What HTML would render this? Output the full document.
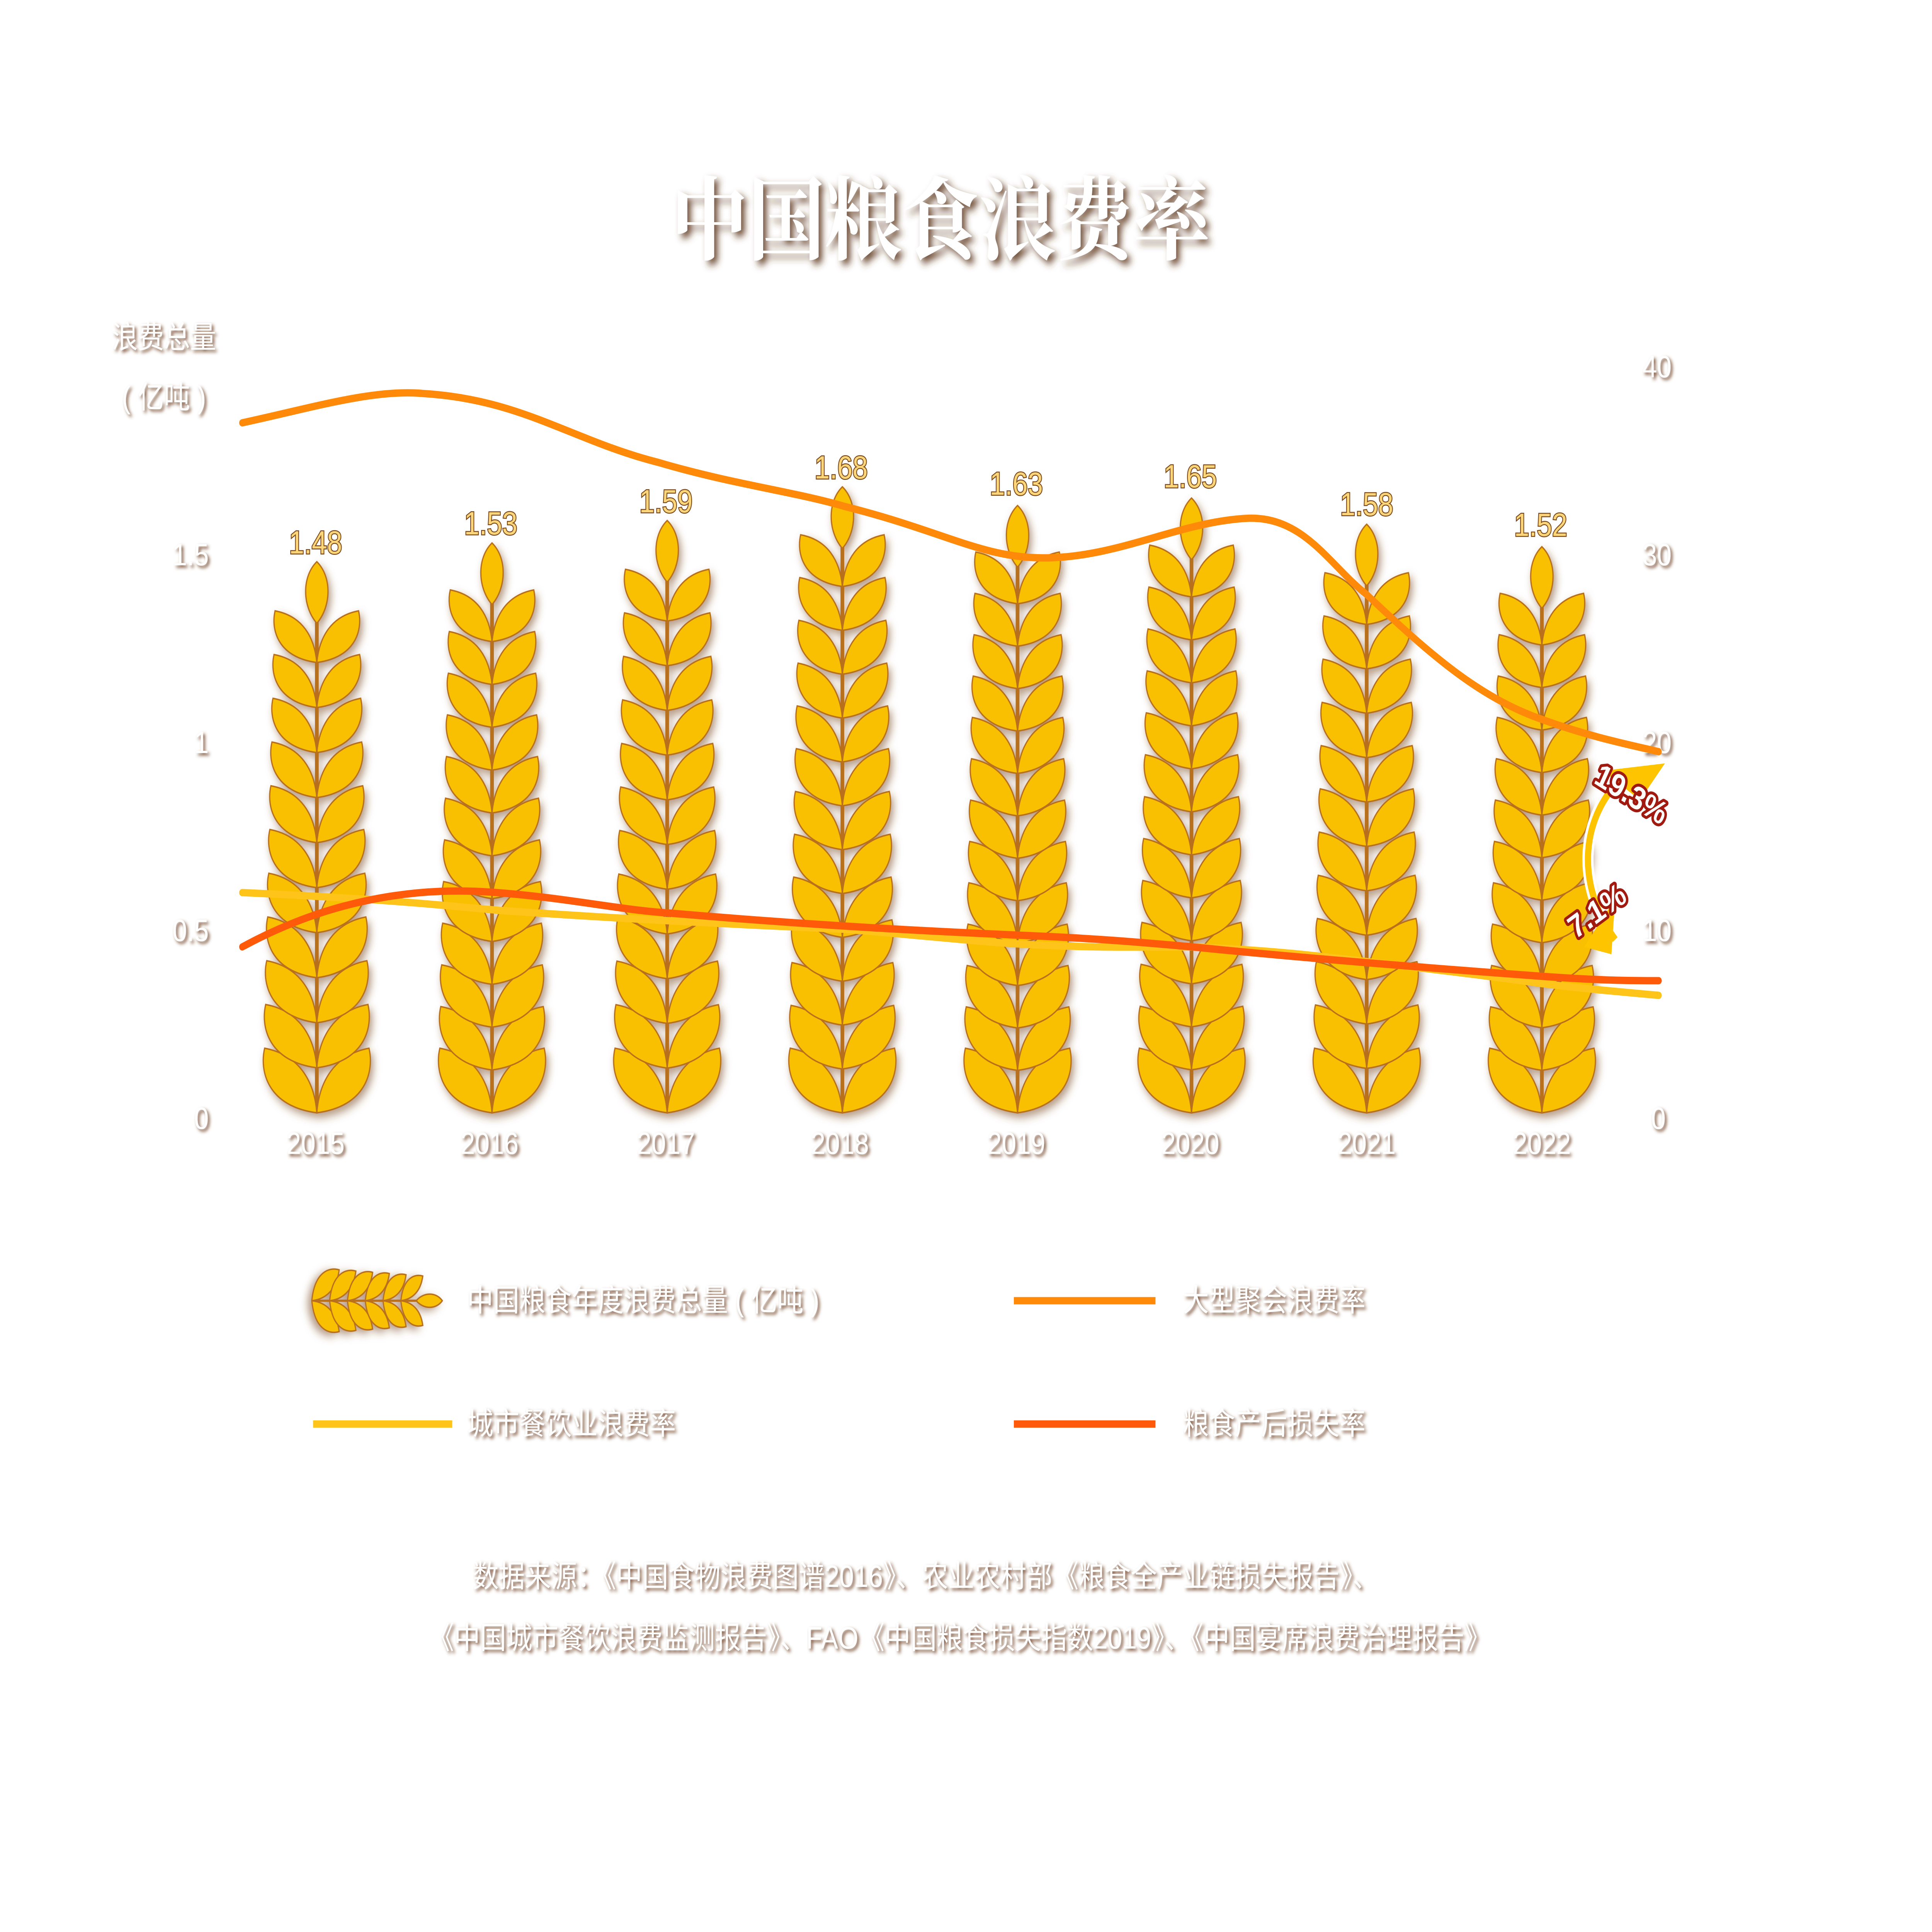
<!DOCTYPE html>
<html><head><meta charset="utf-8">
<style>
html,body{margin:0;padding:0;background:#fff;width:100%;height:100%;overflow:hidden;}
svg{display:block;position:absolute;left:0;top:0;width:100vw;height:100vh;}
text{font-family:"Liberation Sans","Noto Sans CJK SC",sans-serif;}
</style></head>
<body>
<svg id="s" viewBox="0 0 1555 1316" preserveAspectRatio="none" xmlns="http://www.w3.org/2000/svg">
<defs>
<filter id="sh" x="-20%" y="-20%" width="140%" height="140%"><feDropShadow dx="1.5" dy="1.5" stdDeviation="1.2" flood-color="#6b3a1a" flood-opacity="0.9"/></filter>
<filter id="sh2" x="-20%" y="-20%" width="140%" height="140%"><feDropShadow dx="3" dy="3" stdDeviation="2.5" flood-color="#5a3016" flood-opacity="0.85"/></filter>
<filter id="ksh" x="-30%" y="-30%" width="160%" height="160%"><feDropShadow dx="2" dy="3" stdDeviation="3" flood-color="#7a4a20" flood-opacity="0.55"/></filter>
</defs>
<rect width="1555" height="1316" fill="#fff"/>
<text x="757" y="172" text-anchor="middle" font-size="62" font-weight="bold" fill="#fff" filter="url(#sh2)" style="font-family:'Noto Serif CJK SC','Liberation Serif',serif">中国粮食浪费率</text>

<g font-size="21" fill="#fff" filter="url(#sh)">
<text x="132" y="237" text-anchor="middle">浪费总量</text>
<text x="132" y="278" text-anchor="middle">( 亿吨 )</text>
<text x="168" y="385" text-anchor="end">1.5</text>
<text x="168" y="513" text-anchor="end">1</text>
<text x="168" y="641" text-anchor="end">0.5</text>
<text x="168" y="769" text-anchor="end">0</text>
<text x="1322" y="257">40</text>
<text x="1322" y="385">30</text>
<text x="1322" y="513">20</text>
<text x="1322" y="641">10</text>
<text x="1329" y="769">0</text>
</g>
<g id="wheat"></g>
<g font-size="21" fill="#fff" filter="url(#sh)" text-anchor="middle">
<text x="254" y="786">2015</text><text x="394" y="786">2016</text><text x="536" y="786">2017</text><text x="676" y="786">2018</text>
<text x="818" y="786">2019</text><text x="958" y="786">2020</text><text x="1100" y="786">2021</text><text x="1241" y="786">2022</text>
</g>
<g font-size="22" fill="#ffd77a" stroke="#7a4a1e" stroke-width="1.3" text-anchor="middle" paint-order="stroke">
<text x="254" y="377">1.48</text><text x="395" y="364">1.53</text><text x="536" y="349">1.59</text><text x="677" y="326">1.68</text>
<text x="818" y="337">1.63</text><text x="958" y="332">1.65</text><text x="1100" y="351">1.58</text><text x="1240" y="365">1.52</text>
</g>
<g fill="none" stroke-width="5" stroke-linecap="round">
<path stroke="#ffc41a" d="M195,608 C300,612 350,616 400,620 C500,626 600,630 680,633 C740,637 780,641 820,643 C880,646 920,645 960,645 C1020,647 1060,651 1100,655 C1160,661 1200,665 1241,670 C1280,674 1310,676 1335,678"/>
<path stroke="#ff5a0a" d="M195,645 C260,615 330,603 400,608 C460,612 500,620 540,622 C650,630 740,634 820,637 C880,639 920,642 960,645 C1040,652 1160,660 1241,665 C1290,668 1315,668 1335,668"/>
<path stroke="#ff8a0a" d="M195,288 C250,278 300,265 340,268 C420,272 460,300 530,315 C590,330 640,335 680,345 C760,362 790,380 840,380 C900,380 950,355 1005,353 C1050,352 1070,385 1100,405 C1150,445 1190,475 1241,490 C1280,502 1310,507 1335,512"/>
</g>
<g>
<path d="M1290,525 L1340,520 L1320,545 Z" fill="#ffc400"/>
<path d="M1305,530 C1270,560 1270,605 1300,640" fill="none" stroke="#fff" stroke-width="9"/>
<path d="M1305,530 C1270,560 1270,605 1300,640" fill="none" stroke="#ffc400" stroke-width="5"/>
<path d="M1275,645 L1300,612 L1297,650 Z" fill="#ffc400"/>
<g font-size="22" font-weight="bold" fill="#fff" stroke="#a01a10" stroke-width="4" paint-order="stroke" stroke-linejoin="round">
<text x="1282" y="533" transform="rotate(28 1282 533)">19.3%</text>
<text x="1268" y="640" transform="rotate(-32 1268 640)">7.1%</text>
</g>
</g>
<g id="leg"></g>
<g font-size="21" fill="#fff" filter="url(#sh)">
<text x="376" y="893">中国粮食年度浪费总量 ( 亿吨 )</text>
<text x="952" y="893">大型聚会浪费率</text>
<text x="376" y="977">城市餐饮业浪费率</text>
<text x="952" y="977">粮食产后损失率</text>
</g>
<g stroke-width="5">
<line x1="816" y1="886" x2="930" y2="886" stroke="#ff8a0a"/>
<line x1="252" y1="970" x2="364" y2="970" stroke="#ffc41a"/>
<line x1="816" y1="970" x2="930" y2="970" stroke="#ff5a0a"/>
</g>
<g font-size="21" fill="#fff" filter="url(#sh)" text-anchor="middle">
<text x="745" y="1081">数据来源：《中国食物浪费图谱2016》、农业农村部《粮食全产业链损失报告》、</text>
<text x="772" y="1123">《中国城市餐饮浪费监测报告》、FAO《中国粮食损失指数2019》、《中国宴席浪费治理报告》</text>
</g>
</svg>
<script>
(function(){
var NS="http://www.w3.org/2000/svg";
var g=document.getElementById('wheat');
var xs=[255,396,537,678,819,959,1100,1241];
var vals=[1.48,1.53,1.59,1.68,1.63,1.65,1.58,1.52];
var fill="#f8c000",st="#b8701a";
function P(d,par){var p=document.createElementNS(NS,'path');p.setAttribute('d',d);p.setAttribute('fill',fill);p.setAttribute('stroke',st);p.setAttribute('stroke-width','1');par.appendChild(p);}
function stalk(cx,bot,top,par,scale,spc){
  var gg=document.createElementNS(NS,'g');gg.setAttribute('filter','url(#ksh)');par.appendChild(gg);
  var s=document.createElementNS(NS,'line');s.setAttribute('x1',cx);s.setAttribute('x2',cx);s.setAttribute('y1',bot);s.setAttribute('y2',top+30*scale);s.setAttribute('stroke',st);s.setAttribute('stroke-width',3*scale);gg.appendChild(s);
  var H=bot-top-38*scale; var n=Math.max(1,Math.round(H/spc)); var sp=H/n;
  for(var i=0;i<n;i++){
    var y=bot-i*sp; var f=1-0.2*(i/Math.max(1,n-1));
    var w=42*f*scale, h=44*f*scale;
    P('M'+cx+','+y+' C'+(cx-w*0.95)+','+(y-h*0.1)+' '+(cx-w*1.1)+','+(y-h*0.65)+' '+(cx-w)+','+(y-h)+' C'+(cx-w*0.35)+','+(y-h*0.9)+' '+(cx-2*scale)+','+(y-h*0.5)+' '+cx+','+y+' Z',gg);
    P('M'+cx+','+y+' C'+(cx+w*0.95)+','+(y-h*0.1)+' '+(cx+w*1.1)+','+(y-h*0.65)+' '+(cx+w)+','+(y-h)+' C'+(cx+w*0.35)+','+(y-h*0.9)+' '+(cx+2*scale)+','+(y-h*0.5)+' '+cx+','+y+' Z',gg);
  }
  var tw=12*scale;
  P('M'+cx+','+top+' C'+(cx+tw)+','+(top+10*scale)+' '+(cx+tw)+','+(top+30*scale)+' '+cx+','+(top+42*scale)+' C'+(cx-tw)+','+(top+30*scale)+' '+(cx-tw)+','+(top+10*scale)+' '+cx+','+top+' Z',gg);
}
for(var k=0;k<8;k++){stalk(xs[k],758,760-vals[k]*255,g,1,30);}
var lg=document.getElementById('leg');
var h=document.createElementNS(NS,'g');h.setAttribute('transform','translate(355,886) rotate(90) translate(-355,-886)');lg.appendChild(h);
stalk(355,990,885,h,0.5,15);
})();
</script>
</body></html>
